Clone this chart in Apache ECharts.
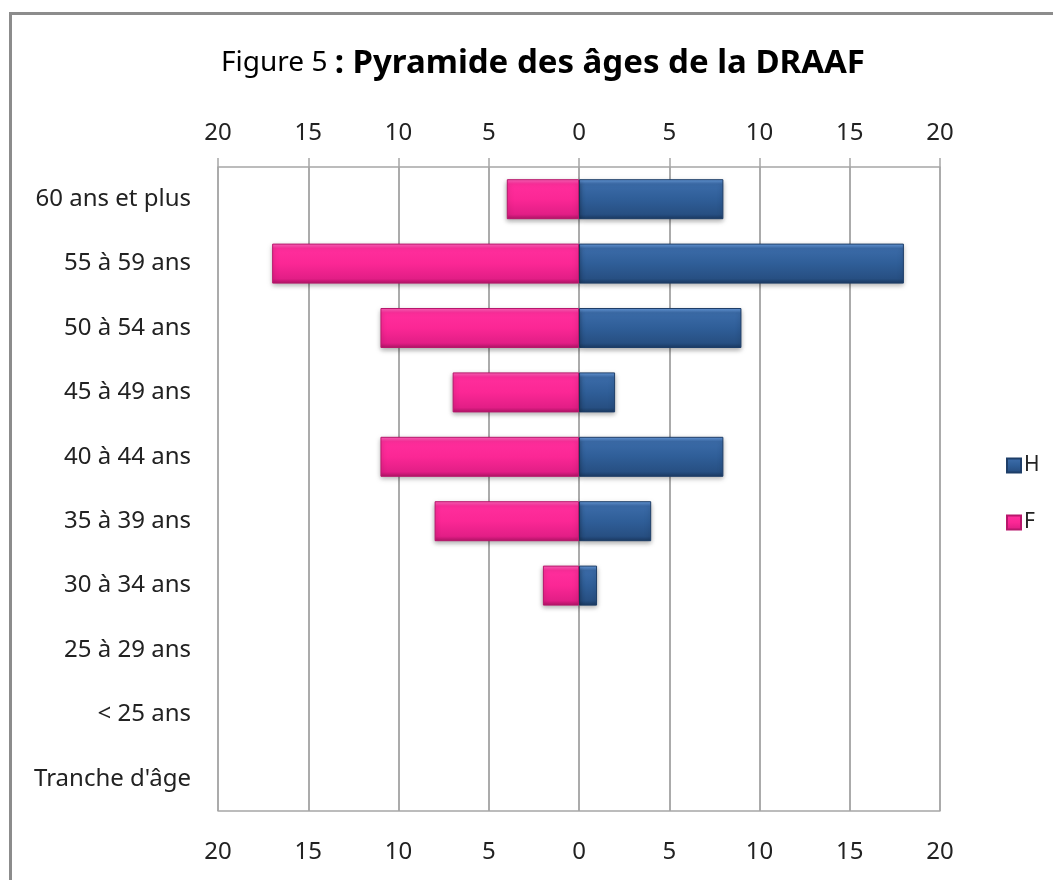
<!DOCTYPE html>
<html>
<head>
<meta charset="utf-8">
<script src="https://cdn.jsdelivr.net/npm/echarts@6/dist/echarts.min.js"></script>
<style>
    html, body {
        margin: 0;
        padding: 0;
        background: #fff;
        overflow: hidden;
    }
    #frame {
        position: absolute;
        left: 9px;
        top: 12px;
        width: 1100px;
        height: 1000px;
        border: 3px solid #8c8c8c;
    }
    #chart {
        position: absolute;
        left: 0;
        top: 0;
        width: 1053px;
        height: 880px;
    }
</style>
</head>
<body>
<div id="frame"></div>
<div id="chart"></div>
<script>
// tranches d'âge, du haut vers le bas
const categories = ['60 ans et plus', '55 à 59 ans', '50 à 54 ans', '45 à 49 ans', '40 à 44 ans',
    '35 à 39 ans', '30 à 34 ans', '25 à 29 ans', '< 25 ans', "Tranche d'âge"];
const hommes = [8, 18, 9, 2, 8, 4, 1, 0, 0, 0];
const femmes = [4, 17, 11, 7, 11, 8, 2, 0, 0, 0];

const font = '"Noto Sans", sans-serif';

// axe des valeurs commun (haut et bas)
const valueAxis = {
    type: 'value',
    min: -20,
    max: 20,
    interval: 5,
    axisLabel: {
        formatter: v => Math.abs(v),
        color: '#222',
        fontSize: 24,
        fontFamily: font,
    },
    splitLine: {
        show: true,
        lineStyle: { color: '#a6a6a6', width: 1.5 },
    },
};

const myChart = echarts.init(document.getElementById('chart'));
myChart.setOption({
    animation: false,
    title: {
        text: '{a|Figure 5 }{b|: Pyramide des âges de la DRAAF}',
        left: 538,
        top: 42,
        textAlign: 'center',
        textStyle: {
            rich: {
                a: { fontSize: 28, fontWeight: 'normal', fontFamily: font, color: '#000' },
                b: { fontSize: 33, fontWeight: 'bold', fontFamily: font, color: '#000' },
            },
        },
    },
    legend: {
        orient: 'vertical',
        left: 1001,
        top: 450,
        icon: 'rect',
        itemWidth: 14,
        itemHeight: 14,
        itemGap: 36,
        data: ['H', 'F'],
        textStyle: { fontSize: 21, fontFamily: font, color: '#222', padding: [0, 0, 0, -2] },
    },
    grid: {
        left: 218,
        right: 113,
        top: 167,
        bottom: 69,
        containLabel: false,
    },
    xAxis: [
        Object.assign({}, valueAxis, {
            position: 'top',
            axisLine: { show: true, onZero: false, lineStyle: { color: '#a6a6a6', width: 1.5 } },
            axisTick: { show: true, length: 9, lineStyle: { color: '#a6a6a6', width: 1.5 } },
            axisLabel: Object.assign({}, valueAxis.axisLabel, { margin: 22 }),
        }),
        Object.assign({}, valueAxis, {
            position: 'bottom',
            axisLine: { show: true, onZero: false, lineStyle: { color: '#a6a6a6', width: 1.5 } },
            axisTick: { show: false },
            axisLabel: Object.assign({}, valueAxis.axisLabel, { margin: 29 }),
        }),
    ],
    yAxis: {
        type: 'category',
        inverse: true,
        data: categories,
        axisLine: { show: false },
        axisTick: { show: false },
        axisLabel: {
            color: '#222',
            fontSize: 24,
            fontFamily: font,
            margin: 27,
        },
    },
    series: [
        {
            name: 'H',
            type: 'bar',
            xAxisIndex: 0,
            barWidth: 40,
            barGap: '-100%',
            // pas de barre pour les valeurs nulles
            data: hommes.map(v => (v === 0 ? null : v)),
            itemStyle: {
                color: new echarts.graphic.LinearGradient(0, 0, 0, 1, [
                    { offset: 0, color: '#6a9ee0' },
                    { offset: 0.12, color: '#3b6ba8' },
                    { offset: 0.5, color: '#2f5e98' },
                    { offset: 0.88, color: '#274f82' },
                    { offset: 1, color: '#1b3a62' },
                ]),
                borderColor: '#1e3e68',
                borderWidth: 1,
                shadowColor: 'rgba(0,0,0,0.35)',
                shadowBlur: 5,
                shadowOffsetY: 2,
            },
        },
        {
            name: 'F',
            type: 'bar',
            xAxisIndex: 0,
            barWidth: 40,
            data: femmes.map(v => (v === 0 ? null : -v)),
            itemStyle: {
                color: new echarts.graphic.LinearGradient(0, 0, 0, 1, [
                    { offset: 0, color: '#ff66bd' },
                    { offset: 0.12, color: '#ff2e9c' },
                    { offset: 0.5, color: '#fb2795' },
                    { offset: 0.88, color: '#e21e86' },
                    { offset: 1, color: '#b01466' },
                ]),
                borderColor: '#b8176c',
                borderWidth: 1,
                shadowColor: 'rgba(0,0,0,0.35)',
                shadowBlur: 5,
                shadowOffsetY: 2,
            },
        },
    ],
});
</script>
</body>
</html>
